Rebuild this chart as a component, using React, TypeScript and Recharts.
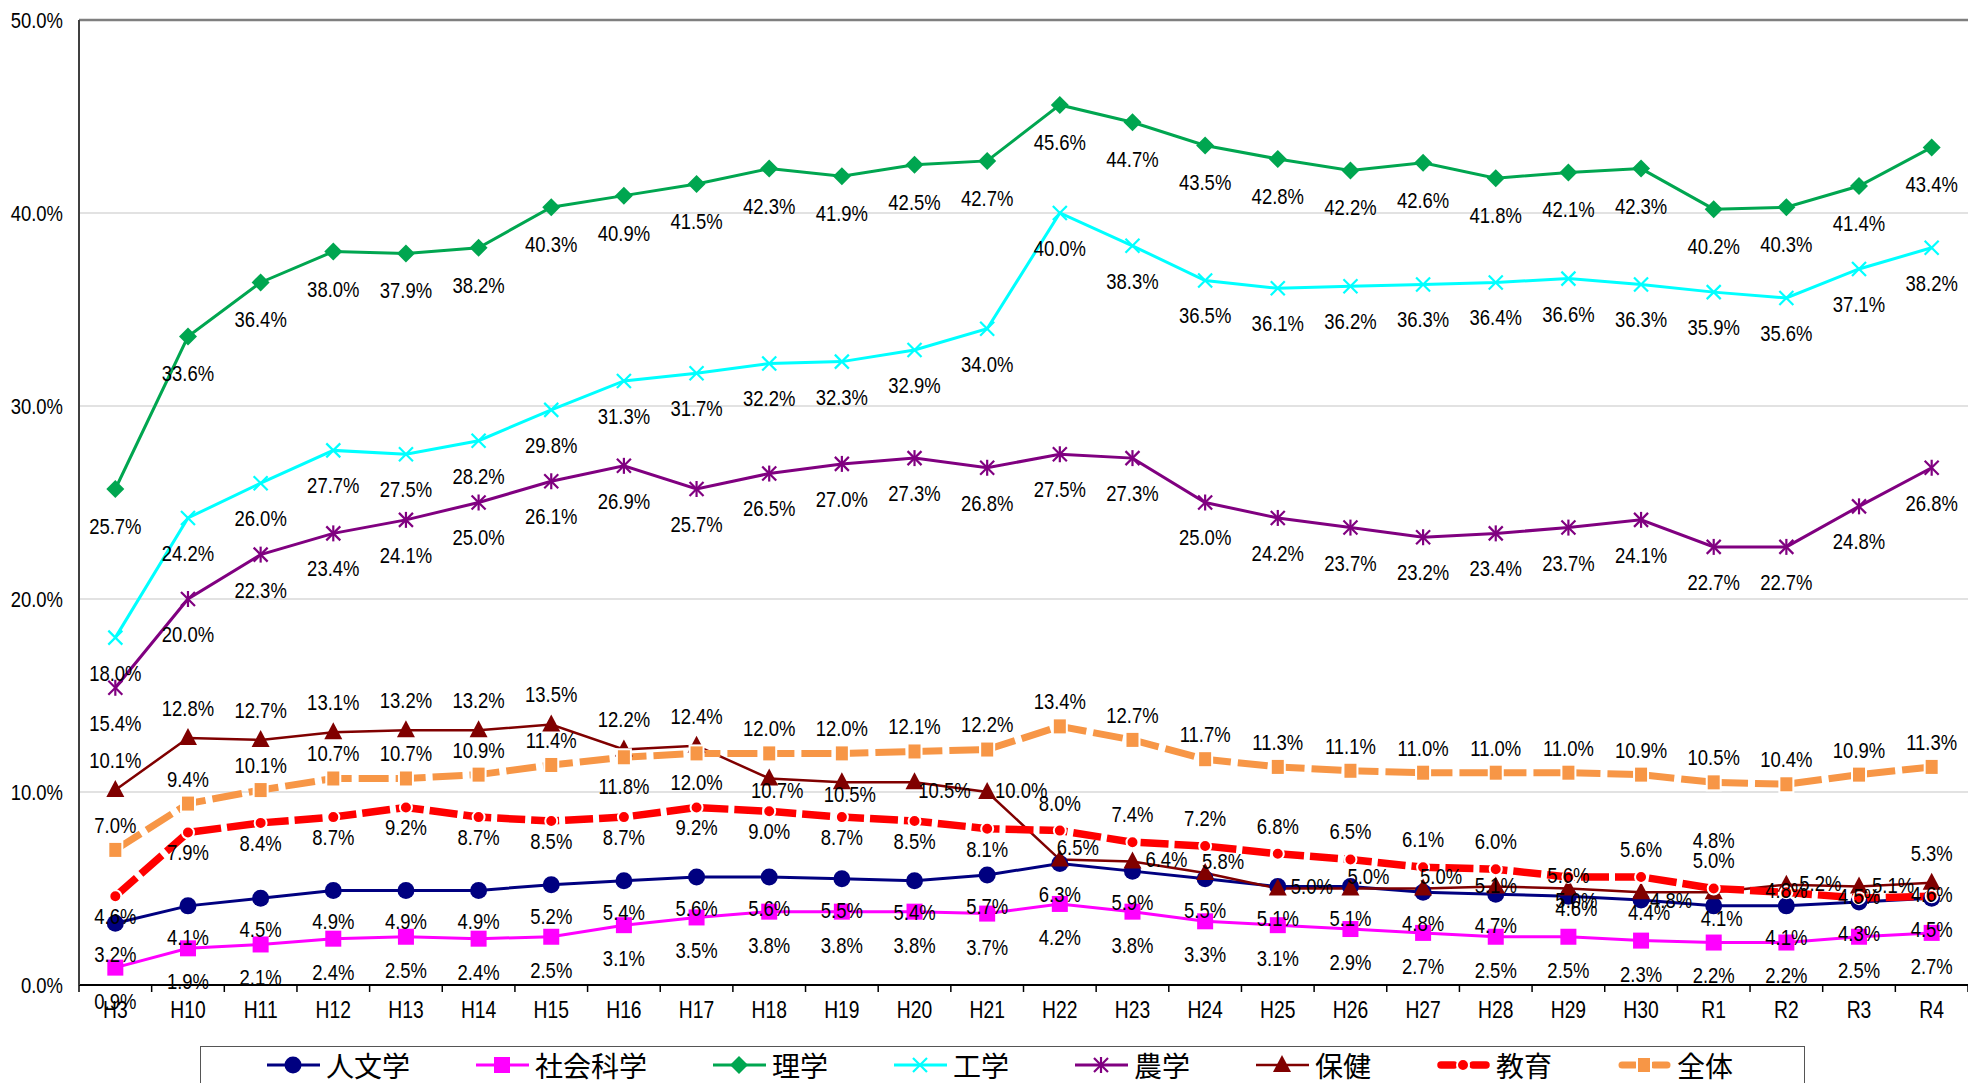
import React from "react";
import {
  LineChart,
  Line,
  XAxis,
  YAxis,
  CartesianGrid,
  ReferenceLine,
  LabelList,
} from "recharts";

const categories = [
  "H3", "H10", "H11", "H12", "H13", "H14", "H15", "H16", "H17", "H18", "H19", "H20", "H21",
  "H22", "H23", "H24", "H25", "H26", "H27", "H28", "H29", "H30", "R1", "R2", "R3", "R4",
];

const jinbun = [3.2, 4.1, 4.5, 4.9, 4.9, 4.9, 5.2, 5.4, 5.6, 5.6, 5.5, 5.4, 5.7, 6.3, 5.9, 5.5, 5.1, 5.1, 4.8, 4.7, 4.6, 4.4, 4.1, 4.1, 4.3, 4.5];
const shakai = [0.9, 1.9, 2.1, 2.4, 2.5, 2.4, 2.5, 3.1, 3.5, 3.8, 3.8, 3.8, 3.7, 4.2, 3.8, 3.3, 3.1, 2.9, 2.7, 2.5, 2.5, 2.3, 2.2, 2.2, 2.5, 2.7];
const rigaku = [25.7, 33.6, 36.4, 38.0, 37.9, 38.2, 40.3, 40.9, 41.5, 42.3, 41.9, 42.5, 42.7, 45.6, 44.7, 43.5, 42.8, 42.2, 42.6, 41.8, 42.1, 42.3, 40.2, 40.3, 41.4, 43.4];
const kogaku = [18.0, 24.2, 26.0, 27.7, 27.5, 28.2, 29.8, 31.3, 31.7, 32.2, 32.3, 32.9, 34.0, 40.0, 38.3, 36.5, 36.1, 36.2, 36.3, 36.4, 36.6, 36.3, 35.9, 35.6, 37.1, 38.2];
const nogaku = [15.4, 20.0, 22.3, 23.4, 24.1, 25.0, 26.1, 26.9, 25.7, 26.5, 27.0, 27.3, 26.8, 27.5, 27.3, 25.0, 24.2, 23.7, 23.2, 23.4, 23.7, 24.1, 22.7, 22.7, 24.8, 26.8];
const hoken = [10.1, 12.8, 12.7, 13.1, 13.2, 13.2, 13.5, 12.2, 12.4, 10.7, 10.5, 10.5, 10.0, 6.5, 6.4, 5.8, 5.0, 5.0, 5.0, 5.1, 5.0, 4.8, 4.8, 5.2, 5.1, 5.3];
const kyoiku = [4.6, 7.9, 8.4, 8.7, 9.2, 8.7, 8.5, 8.7, 9.2, 9.0, 8.7, 8.5, 8.1, 8.0, 7.4, 7.2, 6.8, 6.5, 6.1, 6.0, 5.6, 5.6, 5.0, 4.8, 4.5, 4.6];
const zentai = [7.0, 9.4, 10.1, 10.7, 10.7, 10.9, 11.4, 11.8, 12.0, 12.0, 12.0, 12.1, 12.2, 13.4, 12.7, 11.7, 11.3, 11.1, 11.0, 11.0, 11.0, 10.9, 10.5, 10.4, 10.9, 11.3];

const yTicks = [0, 10, 20, 30, 40, 50];

const W = 1968;
const H = 1083;
const LEFT = 79;
const BAND = (W - LEFT) / categories.length;
// the original uses a narrow Japanese UI font, so squeeze Arial-metric text horizontally
const NUM_FONT = '"Liberation Sans", Arimo, Arial, sans-serif';
const SQUEEZE = 0.84;
const JP_FONT = '"Noto Sans CJK JP", sans-serif';

type Shape = "circle" | "square" | "diamond" | "x" | "star" | "triangle" | "dot" | "block";

type Series = {
  key: string;
  name: string;
  values: number[];
  color: string;
  width: number;
  shape: Shape;
  dash?: string;
  below: number;
  above: number;
  // label placement per category: a=above b=below c=centre n=near below r=right u=up right d=down right A=high above
  place: string;
};

const seriesList: Series[] = [
  { key: "jinbun", name: "人文学", values: jinbun, color: "#000080", width: 3, shape: "circle", below: 31, above: -30, place: "bbbbbbbbbbbbbbbbbbbbnnnbbb" },
  { key: "shakai", name: "社会科学", values: shakai, color: "#FF00FF", width: 3, shape: "square", below: 33, above: -30, place: "bbbbbbbbbbbbbbbbbbbbbbbbbb" },
  { key: "rigaku", name: "理学", values: rigaku, color: "#00A650", width: 3, shape: "diamond", below: 37, above: -30, place: "bbbbbbbbbbbbbbbbbbbbbbbbbb" },
  { key: "kogaku", name: "工学", values: kogaku, color: "#00FFFF", width: 3, shape: "x", below: 35, above: -30, place: "bbbbbbbbbbbbbbbbbbbbbbbbbb" },
  { key: "nogaku", name: "農学", values: nogaku, color: "#800080", width: 3, shape: "star", below: 35, above: -30, place: "bbbbbbbbbbbbbbbbbbbbbbbbbb" },
  { key: "hoken", name: "保健", values: hoken, color: "#800000", width: 2.5, shape: "triangle", below: 30, above: -30, place: "aaaaaaaaannd" + "rururuucndArraaa" },
  { key: "kyoiku", name: "教育", values: kyoiku, color: "#FF0000", width: 7.5, shape: "dot", dash: "28 6", below: 20, above: -28, place: "bbbbbbbbbbbbbaaaaaaacaaccc" },
  { key: "zentai", name: "全体", values: zentai, color: "#F79646", width: 7, shape: "block", dash: "30 7", below: 29, above: -25, place: "aaaaaaabbaaaaaaaaaaaaaaaaa" },
];

const chartData = categories.map((cat, i) => {
  const row: Record<string, string | number> = { cat };
  seriesList.forEach((s) => {
    row[s.key] = s.values[i];
  });
  return row;
});

const NarrowText = ({
  x,
  y,
  size,
  anchor = "middle",
  children,
}: {
  x: number;
  y: number;
  size: number;
  anchor?: "start" | "middle" | "end";
  children: React.ReactNode;
}) => (
  <text
    transform={`translate(${x},${y}) scale(${SQUEEZE},1)`}
    x={0}
    y={0}
    dy="0.36em"
    textAnchor={anchor}
    fontSize={size}
    fontFamily={NUM_FONT}
    fill="#000"
  >
    {children}
  </text>
);

const Marker = ({ cx, cy, shape, color }: { cx: number; cy: number; shape: Shape; color: string }) => {
  switch (shape) {
    case "circle":
      return <circle cx={cx} cy={cy} r={8.5} fill={color} />;
    case "square":
      return <rect x={cx - 8} y={cy - 8} width={16} height={16} fill={color} />;
    case "diamond":
      return (
        <polygon
          points={`${cx},${cy - 9} ${cx + 9},${cy} ${cx},${cy + 9} ${cx - 9},${cy}`}
          fill={color}
        />
      );
    case "x":
      return (
        <g stroke={color} strokeWidth={2.2}>
          <line x1={cx - 7} y1={cy - 7} x2={cx + 7} y2={cy + 7} />
          <line x1={cx - 7} y1={cy + 7} x2={cx + 7} y2={cy - 7} />
        </g>
      );
    case "star":
      return (
        <g stroke={color} strokeWidth={2.2}>
          <line x1={cx - 7} y1={cy - 7} x2={cx + 7} y2={cy + 7} />
          <line x1={cx - 7} y1={cy + 7} x2={cx + 7} y2={cy - 7} />
          <line x1={cx} y1={cy - 8} x2={cx} y2={cy + 8} />
        </g>
      );
    case "triangle":
      return (
        <polygon
          points={`${cx},${cy - 10} ${cx + 9},${cy + 7} ${cx - 9},${cy + 7}`}
          fill={color}
        />
      );
    case "dot":
      return <circle cx={cx} cy={cy} r={6} fill={color} stroke="#fff" strokeWidth={2} />;
    case "block":
      return (
        <rect x={cx - 7} y={cy - 8} width={14} height={16} fill={color} stroke="#fff" strokeWidth={2} />
      );
  }
  return null;
};

const offsetFor = (s: Series, index: number) => {
  const code = s.place[index] || "b";
  switch (code) {
    case "a":
      return { dx: 0, dy: s.above };
    case "A":
      return { dx: 0, dy: -52 };
    case "c":
      return { dx: 0, dy: -2 };
    case "n":
      return { dx: 8, dy: 12 };
    case "r":
      return { dx: 34, dy: -2 };
    case "u":
      return { dx: 18, dy: -12 };
    case "d":
      return { dx: 30, dy: 8 };
    default:
      return { dx: 0, dy: s.below };
  }
};

const renderLabel = (s: Series) => (props: any) => {
  const { x, y, value, index } = props;
  if (x == null || y == null || value == null) return null;
  const { dx, dy } = offsetFor(s, index);
  return (
    <NarrowText key={`${s.key}-lbl-${index}`} x={x + dx} y={y + dy} size={22}>
      {`${Number(value).toFixed(1)}%`}
    </NarrowText>
  );
};

const CategoryTick = (props: any) => {
  const { x, y, payload, index } = props;
  const last = index === categories.length - 1;
  return (
    <g>
      <line x1={x - BAND / 2} y1={y} x2={x - BAND / 2} y2={y + 7} stroke="#000" strokeWidth={1.5} />
      {last && (
        <line x1={x + BAND / 2} y1={y} x2={x + BAND / 2} y2={y + 7} stroke="#000" strokeWidth={1.5} />
      )}
      <NarrowText x={x} y={y + 25} size={23}>
        {payload.value}
      </NarrowText>
    </g>
  );
};

const PercentTick = (props: any) => {
  const { x, y, payload } = props;
  return (
    <NarrowText x={x} y={y} size={22} anchor="end">
      {`${Number(payload.value).toFixed(1)}%`}
    </NarrowText>
  );
};

const LegendIcon = ({ s }: { s: Series }) => {
  const mid = 26;
  return (
    <svg width={53} height={30} style={{ display: "block" }}>
      {s.dash ? (
        <g stroke={s.color} strokeWidth={s.width} strokeLinecap="round">
          <line x1={4} y1={15} x2={17} y2={15} />
          <line x1={36} y1={15} x2={49} y2={15} />
        </g>
      ) : (
        <line x1={0} y1={15} x2={53} y2={15} stroke={s.color} strokeWidth={s.width} />
      )}
      <Marker cx={mid} cy={15} shape={s.shape} color={s.color} />
    </svg>
  );
};

const App: React.FC = () => {
  return (
    <div
      style={{
        position: "absolute",
        left: 0,
        top: 0,
        width: W,
        height: H,
        background: "#fff",
        overflow: "hidden",
      }}
    >
      <LineChart
        width={W}
        height={H}
        data={chartData}
        margin={{ top: 20, right: 0, bottom: 38, left: 0 }}
        style={{ fontFamily: NUM_FONT }}
      >
        <CartesianGrid vertical={false} stroke="#d9d9d9" strokeWidth={1.5} />
        <ReferenceLine y={50} stroke="#7f7f7f" strokeWidth={2.5} />
        <XAxis
          dataKey="cat"
          interval={0}
          height={60}
          padding={{ left: BAND / 2, right: BAND / 2 }}
          tickLine={false}
          tickSize={0}
          tickMargin={0}
          axisLine={{ stroke: "#000", strokeWidth: 2 }}
          tick={<CategoryTick />}
        />
        <YAxis
          width={LEFT}
          domain={[0, 50]}
          ticks={yTicks}
          tickLine={false}
          tickSize={0}
          tickMargin={16}
          axisLine={{ stroke: "#404040", strokeWidth: 2 }}
          tick={<PercentTick />}
        />
        {seriesList.map((s) => (
          <Line
            key={s.key}
            dataKey={s.key}
            name={s.name}
            type="linear"
            stroke={s.color}
            strokeWidth={s.width}
            strokeDasharray={s.dash}
            isAnimationActive={false}
            activeDot={false}
            dot={(p: any) => (
              <Marker key={`${s.key}-dot-${p.index}`} cx={p.cx} cy={p.cy} shape={s.shape} color={s.color} />
            )}
          >
            <LabelList dataKey={s.key} content={renderLabel(s)} />
          </Line>
        ))}
      </LineChart>

      {/* legend box, cut off by the bottom edge as in the original */}
      <div
        style={{
          position: "absolute",
          left: 200,
          top: 1046,
          width: 1605,
          height: 60,
          boxSizing: "border-box",
          border: "1.5px solid #555",
          background: "#fff",
          display: "flex",
          alignItems: "flex-start",
          paddingLeft: 66,
          paddingTop: 3,
          gap: 66,
        }}
      >
        {seriesList.map((s) => (
          <div key={s.key} style={{ display: "flex", alignItems: "center" }}>
            <LegendIcon s={s} />
            <span
              style={{
                marginLeft: 6,
                fontFamily: JP_FONT,
                fontSize: 28,
                lineHeight: "30px",
                color: "#000",
                whiteSpace: "nowrap",
              }}
            >
              {s.name}
            </span>
          </div>
        ))}
      </div>
    </div>
  );
};

export default App;
